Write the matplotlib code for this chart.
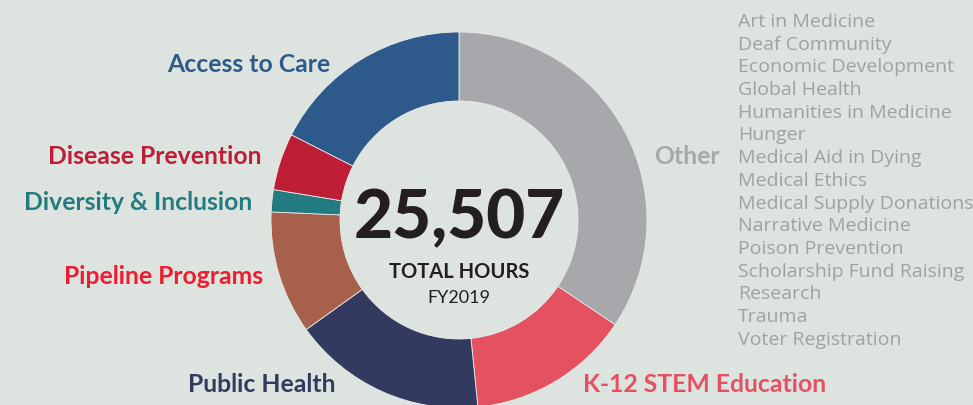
import matplotlib.pyplot as plt

# hours by focus area, FY2019 (clockwise from 12 o'clock)
areas = ['Other', 'K-12 STEM Education', 'Public Health', 'Pipeline Programs',
         'Diversity & Inclusion', 'Disease Prevention', 'Access to Care']
hours = [8775, 3570, 4260, 2700, 485, 1250, 4467]
wedge_colors = ['#a7a8ab', '#e45261', '#323b5f', '#a6604c', '#227b80', '#be1e35', '#2d5a8b']
label_colors = ['#a7a8ab', '#e45261', '#323b5f', '#ee1c2e', '#237d80', '#be1e35', '#2e5a8a']

other_items = ['Art in Medicine', 'Deaf Community', 'Economic Development', 'Global Health',
               'Humanities in Medicine', 'Hunger', 'Medical Aid in Dying', 'Medical Ethics',
               'Medical Supply Donations', 'Narrative Medicine', 'Poison Prevention',
               'Scholarship Fund Raising', 'Research', 'Trauma', 'Voter Registration']

total = sum(hours)

W, H = 973, 405
bg = '#dde3df'

fig = plt.figure(figsize=(W / 100, H / 100), dpi=100, facecolor=bg)
ax = fig.add_axes([0, 0, 1, 1])

cx, cy, r = 459, H - 220, 188
ax.pie(hours, colors=wedge_colors, startangle=90, counterclock=False,
       center=(cx, cy), radius=r, frame=True,
       wedgeprops=dict(width=69, edgecolor='#e8ece9', linewidth=0.6))
ax.set_xlim(0, W)
ax.set_ylim(0, H)
ax.set_aspect('equal')
ax.axis('off')

def put(x, y, s, **kw):
    ax.text(x, H - y, s, **kw)

lab = dict(fontfamily='Lato', fontweight='bold', fontsize=17.8, va='center')
# right-aligned labels on the left side
left_pos = {'Access to Care': (330, 64), 'Disease Prevention': (262, 156),
            'Diversity & Inclusion': (252, 202), 'Pipeline Programs': (263, 276),
            'Public Health': (335, 384)}
for name, col in zip(areas, label_colors):
    if name in left_pos:
        x, y = left_pos[name]
        put(x, y, name, color=col, ha='right', **lab)
put(583, 384, areas[1], color=label_colors[1], ha='left', **lab)
put(720, 157, areas[0], color=label_colors[0], ha='right', **lab)

for i, item in enumerate(other_items):
    put(738, 22 + i * 22.7, item, color='#9fa1a4', fontfamily='Open Sans',
        fontsize=14, ha='left', va='center')

put(cx, 219, f'{total:,}', color='#231f20', fontfamily='Lato', fontweight='black',
    fontsize=48.5, ha='center', va='center')
put(cx, 272, 'TOTAL HOURS', color='#231f20', fontfamily='Lato', fontweight='bold',
    fontsize=14.5, ha='center', va='center')
put(cx, 298, 'FY2019', color='#231f20', fontfamily='Lato', fontsize=13,
    ha='center', va='center')

fig.savefig('out.png', dpi=100, facecolor=bg)
